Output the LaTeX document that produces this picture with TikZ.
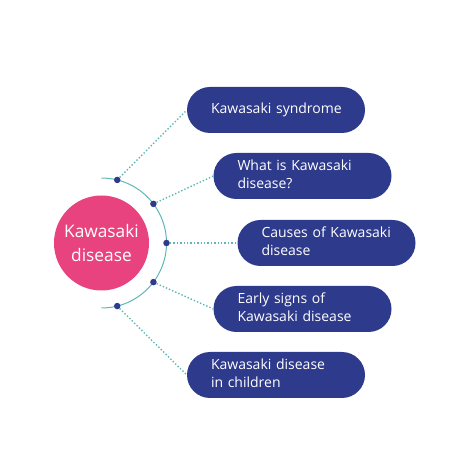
\documentclass[tikz,border=0pt]{standalone}
\usepackage{fontspec}
\setmainfont{Open Sans}
\usetikzlibrary{calc}
\definecolor{kpink}{HTML}{E8437E}
\definecolor{kblue}{HTML}{2E3A8C}
\definecolor{kteal}{HTML}{5DB8B5}
\newcommand{\pilltext}[1]{\begin{tabular}{@{}l@{}}#1\end{tabular}}
\begin{document}
\begin{tikzpicture}[x=1pt,y=1pt,
  pill/.style={draw=none,fill=kblue,rounded corners=23pt,minimum width=178pt,minimum height=46pt,
    text=white,font=\fontsize{14}{18}\selectfont,align=left,text width=130pt,inner xsep=0pt},
  dotc/.style={circle,fill=kblue,inner sep=0pt,minimum size=6.5pt},
  link/.style={kteal,line width=1.4pt,dotted}]
\useasboundingbox (0,0) rectangle (474,474);
\coordinate (c) at (101.5,231);
\node[circle,fill=kpink,minimum size=95pt,inner sep=0pt,text=white,align=center,
  font=\fontsize{17.3}{23.5}\selectfont] (main) at (c) {Kawasaki\\disease};
\draw[kteal,line width=1pt] (101.5,296) arc[start angle=90,end angle=-90,radius=65];
\node[dotc] (d1) at ($(c)+(76:65)$) {};
\node[dotc] (d2) at ($(c)+(37:65)$) {};
\node[dotc] (d3) at ($(c)+(0:65)$) {};
\node[dotc] (d4) at ($(c)+(-37:65)$) {};
\node[dotc] (d5) at ($(c)+(-76:65)$) {};
\node[pill] (p1) at (276,364) {\pilltext{Kawasaki syndrome}};
\node[pill] (p2) at (302.5,298) {\pilltext{What is Kawasaki\\disease?}};
\node[pill] (p3) at (326.5,231) {\pilltext{Causes of Kawasaki\\disease}};
\node[pill] (p4) at (302.5,165) {\pilltext{Early signs of\\Kawasaki disease}};
\node[pill] (p5) at (276,99) {\pilltext{Kawasaki disease\\in children}};
\draw[link] (d1) -- (p1.west);
\draw[link] (d2) -- (p2.west);
\draw[link] (d3) -- (p3.west);
\draw[link] (d4) -- (p4.west);
\draw[link] (d5) -- (p5.west);
\end{tikzpicture}
\end{document}
